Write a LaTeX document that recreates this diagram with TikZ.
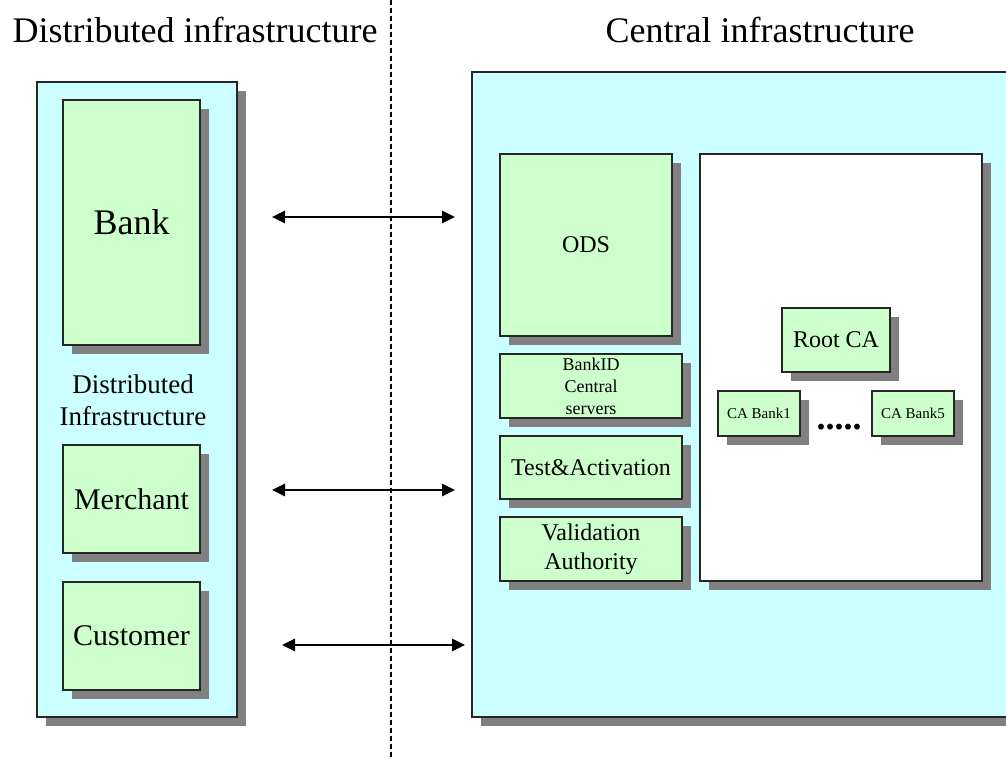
\documentclass[tikz,border=0pt]{standalone}
\usepackage{fontspec}
\setmainfont{Liberation Serif}
\usetikzlibrary{arrows.meta, shadows}

\definecolor{infra}{HTML}{CCFFFF}
\definecolor{unit}{HTML}{CCFFCC}
\newcommand{\fsz}[2]{\fontsize{#1}{#2}\selectfont}

\tikzset{
  shade box/.style={draw=black!85, line width=1.2pt, inner sep=0pt, align=center,
    drop shadow={shadow xshift=9pt, shadow yshift=-9pt, fill=black!50, opacity=1}},
  infra box/.style={shade box, fill=infra},
  unit box/.style={shade box, fill=unit},
  link/.style={line width=2.8pt, {Triangle[length=13pt,width=12pt]}-{Triangle[length=13pt,width=12pt]}},
  border/.style={line width=2pt, dash pattern=on 5pt off 3pt},
}

\begin{document}
\begin{tikzpicture}[x=1pt, y=-1pt]
    \path[use as bounding box, clip] (0,0) rectangle (1006,758);

    \node[anchor=base, font=\fsz{36}{40}] (dtitle) at (195,42) {Distributed infrastructure};
    \node[anchor=base, font=\fsz{36}{40}] (ctitle) at (760,42) {Central infrastructure};

    % distributed side
    \node[infra box, minimum width=200pt, minimum height=635pt] (distr) at (137,399.5) {};
    \node[unit box, minimum width=137pt, minimum height=245pt, font=\fsz{36}{40}] (bank) at (131.5,222.5) {Bank};
    \node[align=center, font=\fsz{27}{32}] (dlabel) at (133,400) {Distributed\\Infrastructure};
    \node[unit box, minimum width=137pt, minimum height=108pt, font=\fsz{30}{34}] (merchant) at (131.5,499) {Merchant};
    \node[unit box, minimum width=137pt, minimum height=108pt, font=\fsz{30}{34}] (customer) at (131.5,636) {Customer};

    % central side
    \node[infra box, minimum width=560pt, minimum height=645pt] (central) at (752,394.5) {};
    \node[unit box, minimum width=172pt, minimum height=182pt, font=\fsz{24}{29}] (ods) at (586,245) {ODS};
    \node[unit box, minimum width=182pt, minimum height=64pt, font=\fsz{18}{22}] (bankid) at (591,386) {BankID\\Central\\servers};
    \node[unit box, minimum width=182pt, minimum height=63pt, font=\fsz{24}{29}] (test) at (591,467.5) {Test\&Activation};
    \node[unit box, minimum width=182pt, minimum height=64pt, font=\fsz{24}{29}] (valid) at (591,549) {Validation\\Authority};

    \node[shade box, fill=white, minimum width=282pt, minimum height=427pt] (capanel) at (841,367.5) {};
    \node[unit box, minimum width=108pt, minimum height=64pt, font=\fsz{24}{29}] (root) at (836,340) {Root CA};
    \node[unit box, minimum width=82pt, minimum height=45pt, font=\fsz{15}{18}] (cab1) at (759,413.5) {CA Bank1};
    \node[unit box, minimum width=82pt, minimum height=45pt, font=\fsz{15}{18}] (cab5) at (913,413.5) {CA Bank5};
    \node[inner sep=0pt, font=\fsz{36}{40}\bfseries] (dots) at (839,427) {.....};

    % split between the two sides
    \coordinate (top) at (391,0);
    \coordinate (bottom) at (391,758);
    \draw[border] (top) -- (bottom);

    \coordinate (l1) at (272,217);
    \coordinate (r1) at (455,217);
    \coordinate (l2) at (272,490);
    \coordinate (r2) at (455,490);
    \coordinate (l3) at (282,645);
    \coordinate (r3) at (465,645);
    \draw[link] (l1) -- (r1);
    \draw[link] (l2) -- (r2);
    \draw[link] (l3) -- (r3);
\end{tikzpicture}
\end{document}
